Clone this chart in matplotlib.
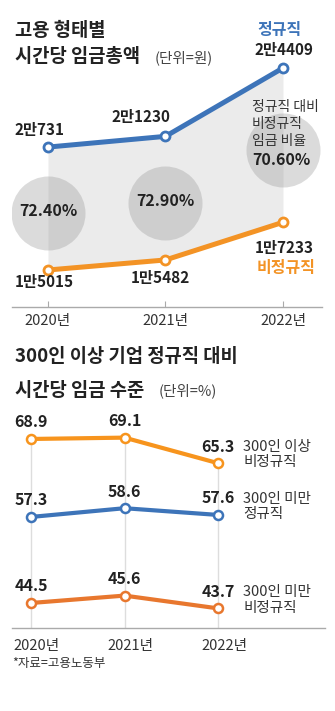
import matplotlib
matplotlib.use("Agg")
import matplotlib.pyplot as plt
from matplotlib.transforms import ScaledTranslation

plt.rcParams['font.family'] = ['Noto Sans CJK KR', 'DejaVu Sans']

# 데이터 - 고용 형태별 시간당 임금총액 (원)
years = ['2020년', '2021년', '2022년']
regular_wage = [20731, 21230, 24409]
irregular_wage = [15015, 15482, 17233]
regular_labels = ['2만731', '2만1230', '2만4409']
irregular_labels = ['1만5015', '1만5482', '1만7233']
wage_ratio = [72.40, 72.90, 70.60]

# 데이터 - 300인 이상 기업 정규직 대비 임금 수준 (%)
big_irregular = [68.9, 69.1, 65.3]
small_regular = [57.3, 58.6, 57.6]
small_irregular = [44.5, 45.6, 43.7]
level_names = ['300인 이상\n비정규직', '300인 미만\n정규직', '300인 미만\n비정규직']

BLUE = '#3d74b9'
ORANGE = '#f39325'
ORANGE2 = '#e8772e'
DARK = '#222222'

W, H = 335, 711
fig = plt.figure(figsize=(W / 100, H / 100), dpi=100)


def box(left, top, right, bottom):
    # 픽셀 좌표 -> figure 비율
    return [left / W, 1 - bottom / H, (right - left) / W, (bottom - top) / H]


def px(x, y):
    return x / W, 1 - y / H


def off(dx, dy):
    # 픽셀 오프셋 -> 포인트
    return (dx * 0.72, dy * 0.72)


# ---------------- 위쪽 차트 ----------------
fig.text(*px(15, 30), '고용 형태별', fontsize=13.5, fontweight='bold', color=DARK, va='center')
fig.text(*px(15, 57), '시간당 임금총액', fontsize=13.5, fontweight='bold', color=DARK, va='center')
fig.text(*px(155, 58), '(단위=원)', fontsize=10.5, color='#444444', va='center')

ax1 = fig.add_axes(box(12, 20, 322, 307))
x = list(range(len(years)))
ax1.fill_between(x, irregular_wage, regular_wage, color='#ebebeb', lw=0, zorder=1)

mids = [(a + b) / 2 - 230 for a, b in zip(regular_wage, irregular_wage)]
ax1.scatter(x, mids, s=2840, color='#999999', alpha=0.35, lw=0, zorder=2)

ax1.plot(x, regular_wage, color=BLUE, lw=3.6, marker='o', ms=6.5, mfc='white',
         mec=BLUE, mew=2, zorder=4, solid_capstyle='round')
ax1.plot(x, irregular_wage, color=ORANGE, lw=3.6, marker='o', ms=6.5, mfc='white',
         mec=ORANGE, mew=2, zorder=4, solid_capstyle='round')

reg_off = [(-8, 17), (-25, 19), (1, 18)]
irr_off = [(-4, -12), (-5, -18), (1, -26)]
for i in x:
    ax1.annotate(regular_labels[i], (i, regular_wage[i]), xytext=off(*reg_off[i]),
                 textcoords='offset points', ha='center', va='center',
                 fontsize=11, fontweight='bold', color=DARK, zorder=5)
    ax1.annotate(irregular_labels[i], (i, irregular_wage[i]), xytext=off(*irr_off[i]),
                 textcoords='offset points', ha='center', va='center',
                 fontsize=11, fontweight='bold', color=DARK, zorder=5)

ax1.annotate('정규직', (2, regular_wage[2]), xytext=off(-3, 38), textcoords='offset points',
             ha='center', va='center', fontsize=11.5, fontweight='bold', color=BLUE)
ax1.annotate('비정규직', (2, irregular_wage[2]), xytext=off(3, -46), textcoords='offset points',
             ha='center', va='center', fontsize=11.5, fontweight='bold', color=ORANGE)

for i in x[:2]:
    ax1.annotate(f'{wage_ratio[i]:.2f}%', (i, mids[i]), xytext=off(0, 2),
                 textcoords='offset points', ha='center', va='center',
                 fontsize=11.5, fontweight='bold', color=DARK, zorder=5)
ax1.annotate('정규직 대비\n비정규직\n임금 비율', (2, mids[2]), xytext=off(-31, 26),
             textcoords='offset points', ha='left', va='center', linespacing=1.3,
             fontsize=10, color='#333333', zorder=5)
ax1.annotate(f'{wage_ratio[2]:.2f}%', (2, mids[2]), xytext=off(-31, -10),
             textcoords='offset points', ha='left', va='center',
             fontsize=11.5, fontweight='bold', color=DARK, zorder=5)

ax1.set_xlim(-0.306, 2.332)
ax1.set_ylim(13294, 26641)
ax1.set_xticks(x)
ax1.set_xticklabels(years, fontsize=10.5, color='#333333')
ax1.tick_params(axis='x', direction='in', length=4, width=0.8, color='#aaaaaa', pad=5)
ax1.set_yticks([])
for s in ['top', 'left', 'right']:
    ax1.spines[s].set_visible(False)
ax1.spines['bottom'].set_color('#aaaaaa')
ax1.spines['bottom'].set_linewidth(1)
ax1.patch.set_visible(False)

# ---------------- 아래쪽 차트 ----------------
fig.text(*px(15, 357), '300인 이상 기업 정규직 대비', fontsize=13.5, fontweight='bold', color=DARK, va='center')
fig.text(*px(15, 390), '시간당 임금 수준', fontsize=13.5, fontweight='bold', color=DARK, va='center')
fig.text(*px(159, 391), '(단위=%)', fontsize=10.5, color='#444444', va='center')

ax2 = fig.add_axes(box(12, 410, 325, 628))
ax2.set_xlim(-0.203, 3.144)
ax2.set_ylim(40.78, 73.21)

tops = [max(v) for v in zip(big_irregular, small_regular, small_irregular)]
ax2.vlines(x, 40.78, tops, color='#dddddd', lw=1, zorder=1)

series = [big_irregular, small_regular, small_irregular]
colors = ['#f7941d', BLUE, ORANGE2]
for vals, c, name in zip(series, colors, level_names):
    ax2.plot(x, vals, color=c, lw=3, marker='o', ms=6.5, mfc='white', mec=c, mew=1.8,
             zorder=3, solid_capstyle='round')
    for i in x:
        ax2.annotate(f'{vals[i]:.1f}', (i, vals[i]), xytext=off(0, 16.5),
                     textcoords='offset points', ha='center', va='center',
                     fontsize=11.5, fontweight='bold', color=DARK)
    ax2.annotate(name, (2, vals[2]), xytext=off(25, 8.5), textcoords='offset points',
                 ha='left', va='center', linespacing=1.15, fontsize=10.5, color='#333333')

ax2.set_xticks(x)
ax2.set_xticklabels(years, fontsize=10.5, color='#333333')
ax2.tick_params(axis='x', length=0, pad=8)
for lbl in ax2.get_xticklabels():
    lbl.set_transform(lbl.get_transform() + ScaledTranslation(6 / 100, 0, fig.dpi_scale_trans))
ax2.set_yticks([])
for s in ['top', 'left', 'right']:
    ax2.spines[s].set_visible(False)
ax2.spines['bottom'].set_color('#aaaaaa')
ax2.spines['bottom'].set_linewidth(1)
ax2.patch.set_visible(False)

fig.text(*px(12, 663), '*자료=고용노동부', fontsize=9, color='#333333', va='center')

fig.savefig('out.png', dpi=100)
